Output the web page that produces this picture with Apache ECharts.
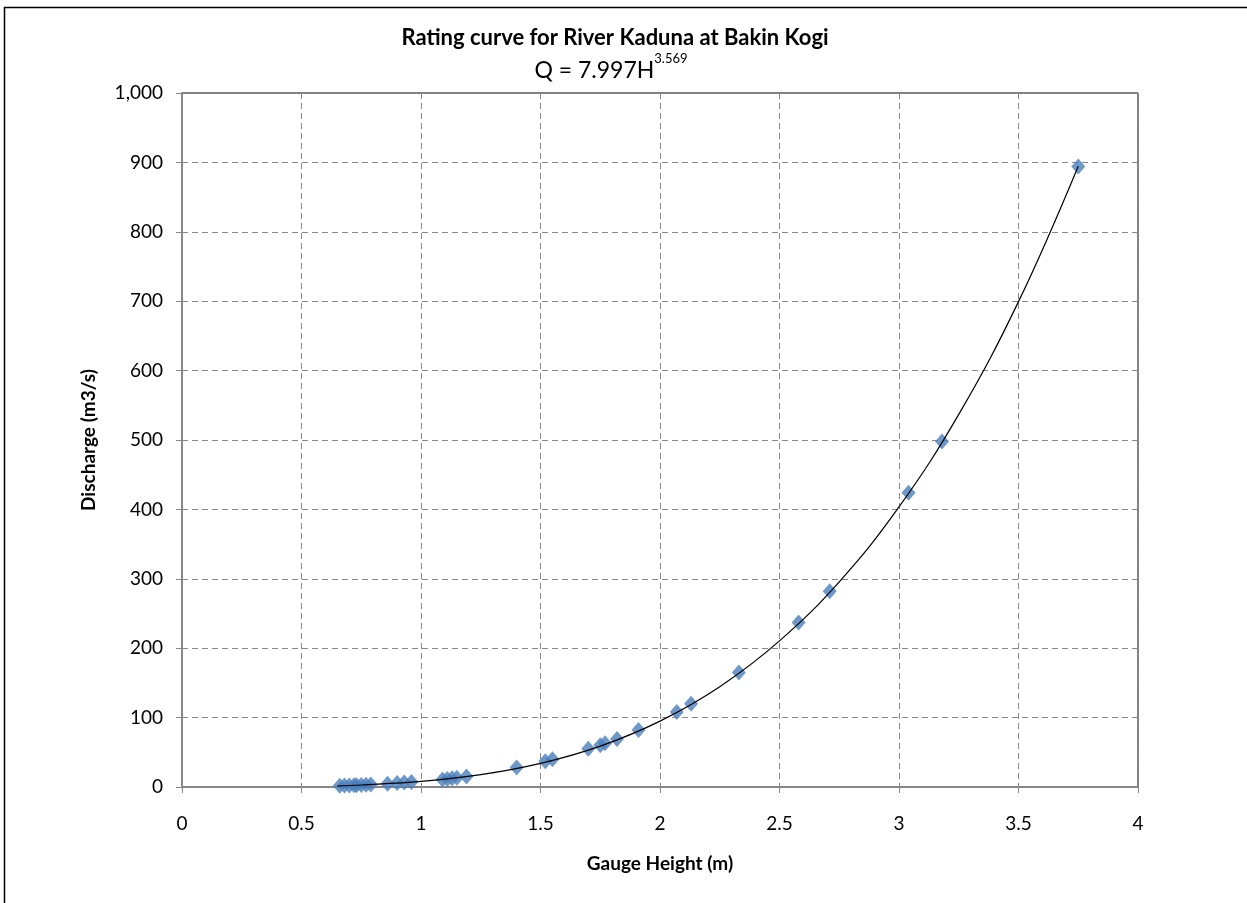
<!DOCTYPE html>
<html>
<head>
<meta charset="utf-8">
<script src="https://cdn.jsdelivr.net/npm/echarts@6/dist/echarts.min.js"></script>
<style>
  html, body { margin: 0; padding: 0; background: #fff; }
  #chart { width: 1247px; height: 903px; }
</style>
</head>
<body>
<div id="chart"></div>
<script>
// Observed gauge heights (m) and measured discharges (m3/s)
const gaugeHeight = [0.66, 0.68, 0.70, 0.72, 0.73, 0.75, 0.77, 0.79, 0.86, 0.90, 0.93, 0.96,
  1.09, 1.11, 1.13, 1.15, 1.19, 1.40, 1.52, 1.55, 1.70, 1.75, 1.77, 1.82, 1.91,
  2.07, 2.13, 2.33, 2.58, 2.71, 3.04, 3.18, 3.75];
const discharge = [1.8, 2.0, 2.3, 2.6, 2.7, 3.0, 3.4, 3.6, 4.8, 5.7, 6.4, 7.2,
  10.8, 11.7, 12.6, 13.4, 15.1, 28, 37, 40, 55, 60, 63, 69, 82,
  108, 120, 165, 237, 282, 424, 498, 894];

// Fitted power curve, sampled along the stage range
const curveHeight = [0.65, 0.75, 1.0, 1.25, 1.5, 1.75, 2.0, 2.25, 2.5, 2.75, 3.0, 3.25, 3.5, 3.75];
const curveDischarge = [1.7, 2.9, 8.0, 17.7, 34.0, 58.9, 94.9, 144.5, 210.5, 295.7, 403.5, 536.9, 699.4, 894.6];

const xTicks = ['0', '0.5', '1', '1.5', '2', '2.5', '3', '3.5', '4'];

const titleText = 'Rating curve for River Kaduna at Bakin Kogi';
const fitBase = 'Q = 7.997H';
const fitExp = '3.569';
const xName = 'Gauge Height (m)';
const yName = 'Discharge (m3/s)';

const FONT = 'Lato, "Open Sans", sans-serif';

const chart = echarts.init(document.getElementById('chart'), null, { renderer: 'canvas' });

const obsPoints = gaugeHeight.map((h, i) => [h, discharge[i]]);
const fitPoints = curveHeight.map((h, i) => [h, curveDischarge[i]]);

chart.setOption({
  backgroundColor: '#fff',
  animation: false,
  grid: {
    left: 182, top: 93, width: 956, height: 694,
    show: true, borderColor: '#000', borderWidth: 1, backgroundColor: 'transparent'
  },
  graphic: [
    {
      type: 'rect', silent: true, z: -10,
      shape: { x: 4.5, y: 7.5, width: 1300, height: 1000 },
      style: { fill: 'none', stroke: '#000', lineWidth: 1.5 }
    },
    {
      type: 'text', x: 615, y: 27,
      style: {
        text: titleText, fill: '#000', align: 'center', verticalAlign: 'top',
        fontSize: 22, fontWeight: 'bold', fontFamily: FONT
      }
    },
    {
      type: 'text', x: 611, y: 52,
      style: {
        text: '{a|' + fitBase + '}{b|' + fitExp + '}',
        align: 'center', verticalAlign: 'top',
        rich: {
          a: { fontSize: 23, fontFamily: FONT, color: '#000', verticalAlign: 'bottom', lineHeight: 30 },
          b: { fontSize: 13, fontFamily: FONT, color: '#000', verticalAlign: 'top', lineHeight: 30, padding: [0, 0, 10, 0] }
        }
      }
    }
  ],
  xAxis: {
    type: 'value', min: 0, max: 4, interval: 0.5,
    name: xName, nameLocation: 'middle', nameGap: 67,
    nameTextStyle: { fontFamily: FONT, fontWeight: 'bold', fontSize: 19, color: '#000' },
    axisLine: { show: true, onZero: false, lineStyle: { color: '#868686', width: 2 } },
    axisTick: { show: true, length: 6, inside: false, lineStyle: { color: '#868686', width: 1 } },
    axisLabel: {
      margin: 27, color: '#000', fontFamily: FONT, fontSize: 19,
      formatter: function (v) { return xTicks[Math.round(v / 0.5)]; }
    },
    splitLine: { show: true, lineStyle: { color: '#888', type: [6, 4], width: 1 } }
  },
  yAxis: {
    type: 'value', min: 0, max: 1000, interval: 100,
    name: yName, nameLocation: 'middle', nameGap: 84,
    nameTextStyle: { fontFamily: FONT, fontWeight: 'bold', fontSize: 19, color: '#000' },
    axisLine: { show: true, onZero: false, lineStyle: { color: '#868686', width: 2 } },
    axisTick: { show: true, length: 6, inside: false, lineStyle: { color: '#868686', width: 1 } },
    axisLabel: {
      margin: 19, color: '#000', fontFamily: FONT, fontSize: 19,
      formatter: function (v) { return v.toLocaleString('en-US'); }
    },
    splitLine: { show: true, lineStyle: { color: '#888', type: [6, 4], width: 1 } }
  },
  series: [
    {
      type: 'scatter', data: obsPoints,
      symbol: 'diamond', symbolSize: [14, 16],
      itemStyle: { color: '#4a7ebb' }, z: 2
    },
    {
      type: 'line', data: fitPoints, smooth: 0.4,
      showSymbol: false, symbol: 'none',
      lineStyle: { color: '#000', width: 1.2 }, z: 3
    }
  ]
});
</script>
</body>
</html>
